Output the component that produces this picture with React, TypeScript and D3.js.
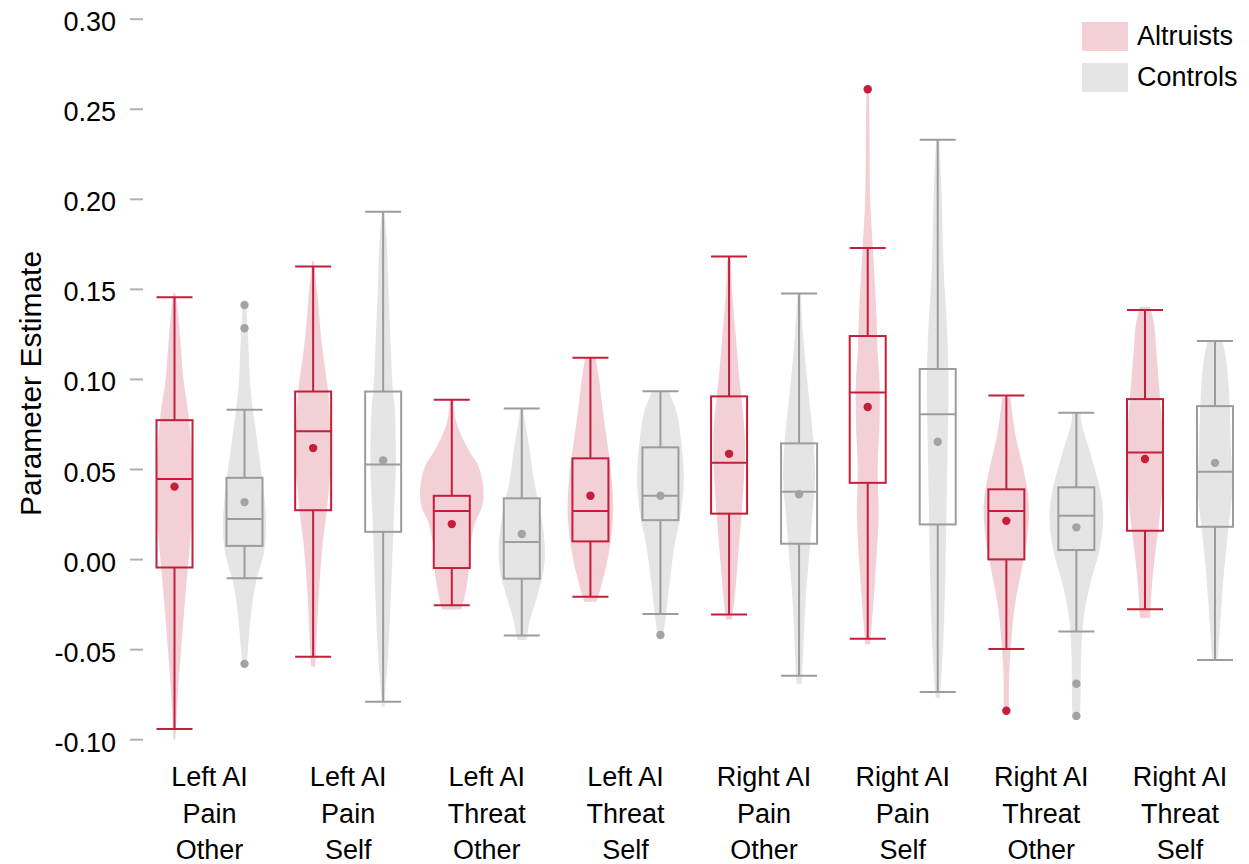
import React from "react";
import * as d3 from "d3";

// ---------- data ----------
const categories = ["LPO", "LPS", "LTO", "LTS", "RPO", "RPS", "RTO", "RTS"];
const categoryLines = [
  ["Left AI", "Pain", "Other"],
  ["Left AI", "Pain", "Self"],
  ["Left AI", "Threat", "Other"],
  ["Left AI", "Threat", "Self"],
  ["Right AI", "Pain", "Other"],
  ["Right AI", "Pain", "Self"],
  ["Right AI", "Threat", "Other"],
  ["Right AI", "Threat", "Self"],
];
const groups = ["Altruists", "Controls"];

const yTickValues = [-0.1, -0.05, 0, 0.05, 0.1, 0.15, 0.2, 0.25, 0.3];
const yTickLabels = ["-0.10", "-0.05", "0.00", "0.05", "0.10", "0.15", "0.20", "0.25", "0.30"];

// Altruists
const altLow = [-0.094, -0.054, -0.0254, -0.0206, -0.0305, -0.0439, -0.0497, -0.0276];
const altQ1 = [-0.0044, 0.0274, -0.0047, 0.0101, 0.0255, 0.0426, 0.0001, 0.016];
const altMedian = [0.0448, 0.0712, 0.0269, 0.0269, 0.0538, 0.0928, 0.0269, 0.0595];
const altQ3 = [0.0774, 0.0933, 0.0354, 0.0562, 0.0906, 0.1241, 0.039, 0.0891];
const altHigh = [0.1456, 0.1627, 0.0887, 0.112, 0.1683, 0.173, 0.0911, 0.1385];
const altMean = [0.0405, 0.0619, 0.0197, 0.0354, 0.0587, 0.0847, 0.0215, 0.0558];
const altOutliers: number[][] = [[], [], [], [], [], [0.2611], [-0.0839], []];

// Controls
const ctrlLow = [-0.0104, -0.079, -0.0421, -0.0302, -0.0645, -0.0735, -0.0399, -0.0558];
const ctrlQ1 = [0.0076, 0.0154, -0.0106, 0.0219, 0.0088, 0.0195, 0.0053, 0.0182];
const ctrlMedian = [0.0225, 0.0528, 0.0097, 0.0354, 0.0377, 0.0807, 0.0243, 0.0487];
const ctrlQ3 = [0.0454, 0.0933, 0.034, 0.0623, 0.0645, 0.1058, 0.0401, 0.0852];
const ctrlHigh = [0.0832, 0.1931, 0.0839, 0.0935, 0.1477, 0.2331, 0.0815, 0.1214];
const ctrlMean = [0.0319, 0.0551, 0.0142, 0.0354, 0.0363, 0.0654, 0.0179, 0.0537];
const ctrlOutliers: number[][] = [[0.1413, 0.1284, -0.0579], [], [], [-0.0419], [], [], [-0.0689, -0.0868], []];

// violin density profiles: [value, relative density]
const altViolins: [number, number][][] = [
  [[0.148, 0.03], [0.14, 0.09], [0.12, 0.19], [0.1, 0.28], [0.08, 0.44], [0.06, 0.53], [0.04, 0.56], [0.02, 0.53], [0.0, 0.44], [-0.02, 0.34], [-0.04, 0.25], [-0.06, 0.16], [-0.08, 0.09], [-0.0999, 0.03]],
  [[0.1656, 0.03], [0.15, 0.12], [0.12, 0.27], [0.093, 0.47], [0.075, 0.53], [0.055, 0.55], [0.035, 0.47], [0.02, 0.38], [0.009, 0.3], [-0.021, 0.17], [-0.052, 0.09], [-0.0593, 0.06]],
  [[0.0887, 0.06], [0.076, 0.15], [0.061, 0.52], [0.052, 0.83], [0.039, 0.99], [0.029, 0.94], [0.02, 0.72], [0.005, 0.56], [-0.008, 0.52], [-0.02, 0.41], [-0.0277, 0.3]],
  [[0.1125, 0.16], [0.1, 0.27], [0.081, 0.4], [0.062, 0.55], [0.044, 0.67], [0.026, 0.71], [0.0075, 0.61], [-0.004, 0.49], [-0.017, 0.3], [-0.0234, 0.19]],
  [[0.166, 0.06], [0.148, 0.1], [0.126, 0.2], [0.103, 0.31], [0.069, 0.49], [0.047, 0.47], [0.025, 0.39], [0.001, 0.28], [-0.02, 0.18], [-0.0332, 0.09]],
  [[0.2611, 0.03], [0.25, 0.05], [0.2, 0.08], [0.167, 0.18], [0.133, 0.28], [0.115, 0.31], [0.099, 0.37], [0.077, 0.37], [0.05, 0.31], [0.025, 0.34], [-0.011, 0.23], [-0.035, 0.13], [-0.047, 0.08]],
  [[0.09, 0.13], [0.085, 0.16], [0.067, 0.31], [0.048, 0.56], [0.03, 0.71], [0.011, 0.64], [-0.007, 0.46], [-0.026, 0.26], [-0.044, 0.16], [-0.063, 0.09], [-0.0839, 0.08]],
  [[0.1403, 0.16], [0.131, 0.28], [0.112, 0.37], [0.085, 0.49], [0.057, 0.58], [0.029, 0.49], [0.002, 0.31], [-0.016, 0.21], [-0.031, 0.16], [-0.0326, 0.14]],
];
const ctrlViolins: [number, number][][] = [
  [[0.1413, 0.06], [0.13, 0.09], [0.12, 0.12], [0.093, 0.2], [0.064, 0.41], [0.035, 0.62], [0.021, 0.67], [0.005, 0.62], [-0.014, 0.34], [-0.033, 0.19], [-0.052, 0.1], [-0.0579, 0.06]],
  [[0.1931, 0.03], [0.18, 0.1], [0.14, 0.19], [0.093, 0.31], [0.087, 0.35], [0.054, 0.4], [0.022, 0.33], [-0.003, 0.28], [-0.052, 0.16], [-0.076, 0.06], [-0.0816, 0.05]],
  [[0.0839, 0.05], [0.079, 0.08], [0.062, 0.24], [0.044, 0.38], [0.026, 0.59], [0.0075, 0.72], [-0.006, 0.68], [-0.021, 0.47], [-0.034, 0.25], [-0.043, 0.16], [-0.0447, 0.13]],
  [[0.0935, 0.26], [0.081, 0.52], [0.062, 0.67], [0.044, 0.73], [0.026, 0.64], [0.0075, 0.44], [-0.011, 0.3], [-0.03, 0.18], [-0.0419, 0.09]],
  [[0.1477, 0.05], [0.124, 0.13], [0.09, 0.31], [0.068, 0.44], [0.046, 0.5], [0.024, 0.41], [0.001, 0.31], [-0.021, 0.21], [-0.043, 0.15], [-0.066, 0.09], [-0.069, 0.08]],
  [[0.2331, 0.05], [0.205, 0.12], [0.16, 0.19], [0.125, 0.3], [0.098, 0.34], [0.061, 0.31], [0.033, 0.28], [-0.008, 0.24], [-0.043, 0.18], [-0.071, 0.09], [-0.0769, 0.06]],
  [[0.0815, 0.13], [0.076, 0.16], [0.057, 0.47], [0.039, 0.74], [0.024, 0.84], [0.005, 0.72], [-0.013, 0.44], [-0.032, 0.23], [-0.054, 0.15], [-0.082, 0.13], [-0.0868, 0.11]],
  [[0.1214, 0.23], [0.112, 0.34], [0.093, 0.44], [0.065, 0.49], [0.038, 0.53], [0.011, 0.38], [-0.007, 0.28], [-0.026, 0.2], [-0.054, 0.09], [-0.0558, 0.08]],
];

// ---------- styles ----------
const FONT = "'Liberation Sans', Arial, Helvetica, sans-serif";
const RED = "#c41e3a";
const PINK = "#f2d0d6";
const GRAY = "#9c9c9c";
const LIGHT = "#e5e5e5";
const GRAY_DOT = "#a3a3a3";

export default function App() {
  const y = d3.scaleLinear().domain([-0.1, 0.3]).range([739.7, 19.2]);
  const x = d3.scalePoint<string>().domain(categories).range([209.5, 1180]);
  const sub = d3.scalePoint<string>().domain(groups).range([-35, 35]);
  const w = d3.scaleLinear().domain([0, 1]).range([0, 32]);
  const boxHalf = 18;

  const series = [
    { name: "Altruists", low: altLow, q1: altQ1, med: altMedian, q3: altQ3, high: altHigh, mean: altMean, out: altOutliers, violins: altViolins, stroke: RED, fill: PINK, dot: RED },
    { name: "Controls", low: ctrlLow, q1: ctrlQ1, med: ctrlMedian, q3: ctrlQ3, high: ctrlHigh, mean: ctrlMean, out: ctrlOutliers, violins: ctrlViolins, stroke: GRAY, fill: LIGHT, dot: GRAY_DOT },
  ];

  return (
    <div style={{ position: "absolute", left: 0, top: 0 }}>
      <svg width={1249} height={864} style={{ display: "block", background: "#fff" }} fontFamily={FONT}>
        {/* y axis */}
        {yTickValues.map((t, i) => (
          <g key={"t" + i}>
            <line x1={130} x2={143} y1={y(t)} y2={y(t)} stroke="#b0b0b0" strokeWidth={2} />
            <text x={116} y={y(t)} dy={12} textAnchor="end" fontSize={27} fill="#000">
              {yTickLabels[i]}
            </text>
          </g>
        ))}
        <text transform={`translate(41, ${y(0.1) + 4}) rotate(-90)`} textAnchor="middle" fontSize={30} fill="#000">
          Parameter Estimate
        </text>

        {/* violins + boxes */}
        {series.map((s) =>
          categories.map((c, i) => {
            const cx = (x(c) as number) + (sub(s.name) as number);
            const area = d3
              .area<[number, number]>()
              .curve(d3.curveCatmullRom)
              .y((d) => y(d[0]))
              .x0((d) => cx - w(d[1]))
              .x1((d) => cx + w(d[1]));
            return (
              <g key={s.name + c}>
                <path d={area(s.violins[i]) || ""} fill={s.fill} stroke="none" />
                <line x1={cx} x2={cx} y1={y(s.high[i])} y2={y(s.q3[i])} stroke={s.stroke} strokeWidth={2} />
                <line x1={cx} x2={cx} y1={y(s.q1[i])} y2={y(s.low[i])} stroke={s.stroke} strokeWidth={2} />
                <line x1={cx - boxHalf} x2={cx + boxHalf} y1={y(s.high[i])} y2={y(s.high[i])} stroke={s.stroke} strokeWidth={2} />
                <line x1={cx - boxHalf} x2={cx + boxHalf} y1={y(s.low[i])} y2={y(s.low[i])} stroke={s.stroke} strokeWidth={2} />
                <rect x={cx - boxHalf} width={boxHalf * 2} y={y(s.q3[i])} height={y(s.q1[i]) - y(s.q3[i])} fill="none" stroke={s.stroke} strokeWidth={2} />
                <line x1={cx - boxHalf} x2={cx + boxHalf} y1={y(s.med[i])} y2={y(s.med[i])} stroke={s.stroke} strokeWidth={2} />
                <circle cx={cx} cy={y(s.mean[i])} r={4.2} fill={s.dot} />
                {s.out[i].map((o, k) => (
                  <circle key={k} cx={cx} cy={y(o)} r={4.2} fill={s.dot} />
                ))}
              </g>
            );
          })
        )}

        {/* category labels */}
        {categories.map((c, i) => (
          <text key={"c" + c} x={x(c) as number} y={786} textAnchor="middle" fontSize={27} fill="#000">
            {categoryLines[i].map((ln, k) => (
              <tspan key={k} x={x(c) as number} dy={k === 0 ? 0 : 36.5}>
                {ln}
              </tspan>
            ))}
          </text>
        ))}

        {/* legend */}
        {series.map((s, i) => (
          <g key={"l" + s.name} transform={`translate(1082, ${22 + i * 41})`}>
            <rect x={0} y={0} width={46} height={29} fill={s.fill} />
            <text x={55} y={22.5} fontSize={27} fill="#000">
              {s.name}
            </text>
          </g>
        ))}
      </svg>
    </div>
  );
}
